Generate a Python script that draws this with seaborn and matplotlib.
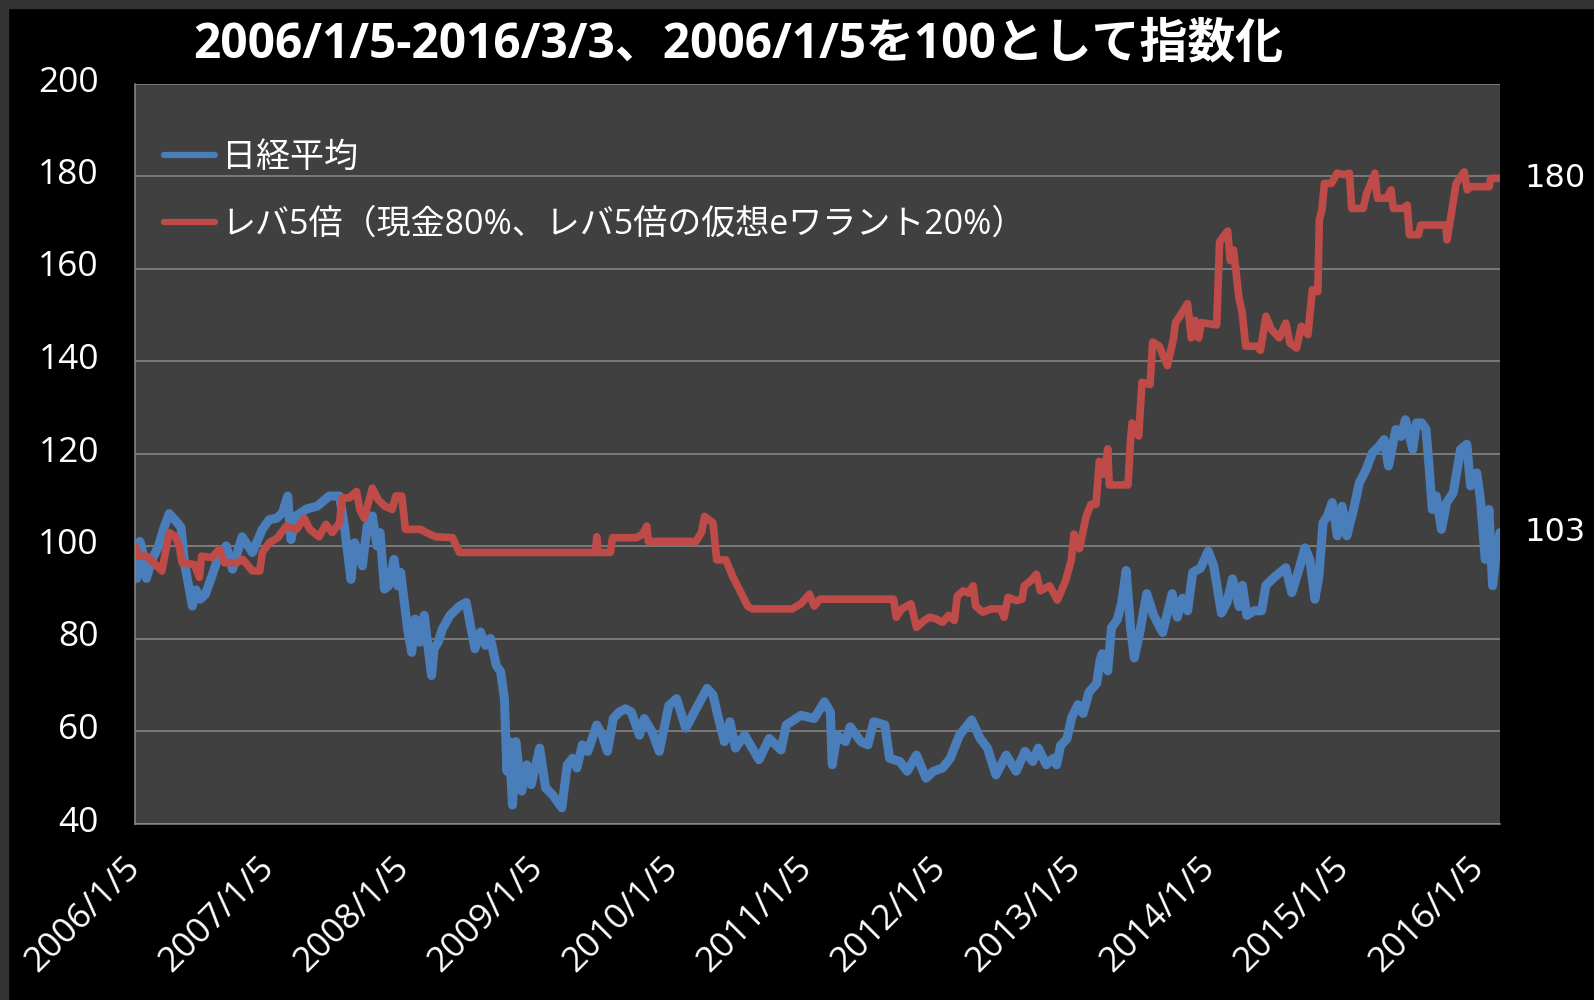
import matplotlib
matplotlib.use("Agg")
import matplotlib.pyplot as plt
import matplotlib.transforms as mtransforms
from matplotlib.patches import Rectangle
import seaborn as sb
import pandas as pd

# 日経平均 (index, 2006/1/5 = 100)
nikkei_dates = [
    "2006-01-05", "2006-01-10", "2006-01-18", "2006-01-25", "2006-02-05", "2006-02-20",
    "2006-03-10", "2006-03-25", "2006-04-08", "2006-04-25", "2006-05-10", "2006-05-20",
    "2006-06-10", "2006-06-20", "2006-07-01", "2006-07-15", "2006-08-02", "2006-08-20",
    "2006-09-10", "2006-09-27", "2006-10-23", "2006-11-20", "2006-12-17", "2007-01-05",
    "2007-01-25", "2007-02-10", "2007-02-24", "2007-03-05", "2007-03-19", "2007-04-16",
    "2007-05-15", "2007-06-17", "2007-07-15", "2007-07-28", "2007-08-15", "2007-08-25",
    "2007-09-15", "2007-09-28", "2007-10-12", "2007-10-25", "2007-11-02", "2007-11-14",
    "2007-11-25", "2007-12-10", "2007-12-20", "2007-12-28", "2008-01-16", "2008-01-27",
    "2008-02-05", "2008-02-18", "2008-03-01", "2008-03-21", "2008-03-28", "2008-04-08",
    "2008-04-19", "2008-05-10", "2008-06-05", "2008-06-23", "2008-07-05", "2008-07-17",
    "2008-08-01", "2008-08-15", "2008-08-28", "2008-09-13", "2008-09-25", "2008-10-05",
    "2008-10-12", "2008-10-18", "2008-10-27", "2008-11-05", "2008-11-21", "2008-12-05",
    "2008-12-17", "2009-01-09", "2009-01-25", "2009-02-13", "2009-03-10", "2009-03-25",
    "2009-04-08", "2009-04-20", "2009-05-05", "2009-05-20", "2009-06-13", "2009-06-28",
    "2009-07-12", "2009-07-28", "2009-08-13", "2009-08-30", "2009-09-15", "2009-10-07",
    "2009-10-20", "2009-11-10", "2009-11-30", "2009-12-26", "2010-01-16", "2010-02-10",
    "2010-03-10", "2010-04-09", "2010-04-25", "2010-05-10", "2010-05-26", "2010-06-10",
    "2010-06-25", "2010-07-20", "2010-08-28", "2010-09-25", "2010-10-27", "2010-11-10",
    "2010-12-20", "2011-01-25", "2011-02-22", "2011-03-10", "2011-03-15", "2011-03-28",
    "2011-04-20", "2011-05-03", "2011-06-01", "2011-06-20", "2011-07-06", "2011-08-05",
    "2011-08-18", "2011-09-15", "2011-10-05", "2011-10-30", "2011-11-25", "2011-12-15",
    "2012-01-09", "2012-01-30", "2012-02-24", "2012-03-28", "2012-04-20", "2012-05-10",
    "2012-06-02", "2012-06-30", "2012-07-27", "2012-08-20", "2012-09-10", "2012-09-25",
    "2012-10-17", "2012-11-05", "2012-11-14", "2012-11-25", "2012-12-12", "2012-12-25",
    "2013-01-11", "2013-01-25", "2013-02-10", "2013-03-03", "2013-03-12", "2013-03-18",
    "2013-04-02", "2013-04-12", "2013-04-28", "2013-05-10", "2013-05-22", "2013-06-03",
    "2013-06-13", "2013-06-28", "2013-07-17", "2013-08-05", "2013-08-29", "2013-09-24",
    "2013-10-08", "2013-10-22", "2013-11-05", "2013-11-19", "2013-12-10", "2013-12-31",
    "2014-01-15", "2014-02-05", "2014-02-20", "2014-03-07", "2014-03-25", "2014-04-03",
    "2014-04-15", "2014-05-05", "2014-05-25", "2014-06-06", "2014-07-01", "2014-07-30",
    "2014-08-15", "2014-09-01", "2014-09-20", "2014-10-03", "2014-10-17", "2014-10-28",
    "2014-11-08", "2014-11-20", "2014-12-03", "2014-12-17", "2014-12-30", "2015-01-12",
    "2015-01-30", "2015-02-15", "2015-03-05", "2015-03-22", "2015-04-10", "2015-04-23",
    "2015-05-05", "2015-05-25", "2015-06-08", "2015-06-20", "2015-07-10", "2015-07-20",
    "2015-08-03", "2015-08-15", "2015-08-24", "2015-09-01", "2015-09-12", "2015-09-26",
    "2015-10-10", "2015-10-28", "2015-11-17", "2015-12-04", "2015-12-14", "2015-12-31",
    "2016-01-10", "2016-01-23", "2016-02-02", "2016-02-12", "2016-02-20", "2016-03-03",
]
nikkei_values = [
    100, 93, 101, 99, 93, 97,
    100, 104, 107, 105.5, 104, 96,
    87, 90.5, 88.5, 89.5, 93.5, 97.8,
    100, 95, 102, 98.6, 103.6, 105.7,
    106, 107.2, 110.8, 101.4, 106.5, 108,
    108.6, 110.8, 110.8, 104.3, 92.8, 100.7,
    95.7, 104.3, 106.5, 100, 102.9, 90.7,
    91.4, 97.1, 91.4, 94.3, 82, 77,
    84.2, 79.2, 85, 72, 77.8, 79.2,
    82, 85, 87, 87.8, 82.8, 77.8,
    81.4, 78.5, 80, 74.2, 72.8, 67,
    51.3, 57.7, 44, 57.7, 47, 52.7,
    48.4, 56.3, 47.7, 46.2, 43.4, 52.7,
    54.1, 52, 57, 55.6, 61.3, 59.1,
    55.6, 62.7, 64.1, 64.8, 64.1, 59.1,
    62.7, 59.9, 55.6, 65.5, 67, 60.6,
    64.8, 69.2, 67.8, 62.7, 57.7, 62,
    56.3, 59.1, 53.8, 58.4, 55.9, 61.3,
    63.4, 62.7, 66.3, 64.1, 52.7, 59.1,
    57.7, 60.9, 57.7, 57, 62, 61.3,
    54.1, 53.4, 51.3, 54.8, 49.8, 51.3,
    52, 54.1, 59.1, 62.4, 58.4, 56.3,
    50.5, 54.8, 51.3, 55.6, 53.4, 56.3,
    52.7, 54.1, 52.7, 56.9, 58.3, 62.9,
    65.7, 63.8, 68.4, 70.3, 75.3, 76.7,
    73, 82.3, 84.1, 87.8, 94.7, 82.3,
    75.8, 81.3, 89.7, 85, 81.3, 89.7,
    84.6, 88.7, 86, 94.3, 95.2, 98.9,
    95.7, 85.5, 87.8, 92.9, 86.9, 91.5,
    85, 86, 86, 91.5, 93.4, 95.3,
    89.9, 94.2, 99.6, 97.1, 88.5, 93.5,
    105, 106.5, 109.4, 102.2, 108.6, 102.2,
    107.9, 113.7, 116.5, 120.1, 121.6, 123,
    117.3, 125.2, 123.7, 127.3, 120.9, 126.6,
    126.6, 125.2, 116.5, 107.9, 110.8, 103.6,
    109.4, 111.5, 120.9, 122, 113, 115.8,
    110, 97.1, 107.9, 91.4, 97.1, 102.9,
]

# レバ5倍 strategy (index, 2006/1/5 = 100)
lev_dates = [
    "2006-01-05", "2006-01-15", "2006-02-05", "2006-02-25", "2006-03-19", "2006-04-08",
    "2006-04-25", "2006-05-05", "2006-05-13", "2006-06-15", "2006-06-29", "2006-07-05",
    "2006-08-02", "2006-08-22", "2006-09-05", "2006-10-10", "2006-10-25", "2006-11-20",
    "2006-12-10", "2006-12-17", "2007-01-05", "2007-01-28", "2007-02-20", "2007-03-20",
    "2007-04-10", "2007-04-25", "2007-05-20", "2007-06-08", "2007-06-25", "2007-07-15",
    "2007-07-22", "2007-08-10", "2007-08-30", "2007-09-08", "2007-09-20", "2007-10-12",
    "2007-10-28", "2007-11-15", "2007-12-05", "2007-12-15", "2007-12-31", "2008-01-10",
    "2008-02-20", "2008-03-07", "2008-04-01", "2008-05-17", "2008-06-05", "2009-06-10",
    "2009-06-13", "2009-06-17", "2009-07-20", "2009-07-26", "2009-09-29", "2009-10-15",
    "2009-10-27", "2009-10-31", "2010-03-10", "2010-03-25", "2010-04-02", "2010-04-25",
    "2010-05-05", "2010-05-30", "2010-06-17", "2010-07-12", "2010-07-28", "2010-08-10",
    "2010-11-26", "2010-12-20", "2011-01-12", "2011-01-25", "2011-02-10", "2011-08-29",
    "2011-09-05", "2011-09-20", "2011-10-15", "2011-10-30", "2011-11-20", "2011-12-05",
    "2011-12-20", "2012-01-09", "2012-01-25", "2012-02-10", "2012-02-18", "2012-03-05",
    "2012-03-20", "2012-04-01", "2012-04-08", "2012-04-27", "2012-05-20", "2012-06-15",
    "2012-06-24", "2012-07-05", "2012-07-28", "2012-08-12", "2012-08-18", "2012-09-05",
    "2012-09-20", "2012-10-01", "2012-10-26", "2012-11-16", "2012-12-08", "2012-12-24",
    "2012-12-31", "2013-01-15", "2013-02-02", "2013-02-15", "2013-03-01", "2013-03-10",
    "2013-03-22", "2013-04-02", "2013-04-06", "2013-05-27", "2013-06-03", "2013-06-07",
    "2013-06-25", "2013-07-04", "2013-07-26", "2013-08-02", "2013-08-20", "2013-09-11",
    "2013-09-28", "2013-10-03", "2013-10-15", "2013-11-05", "2013-11-15", "2013-11-25",
    "2013-12-05", "2013-12-12", "2014-01-23", "2014-01-31", "2014-02-22", "2014-03-01",
    "2014-03-10", "2014-03-25", "2014-04-02", "2014-04-12", "2014-05-14", "2014-05-22",
    "2014-06-06", "2014-06-20", "2014-07-12", "2014-07-30", "2014-08-10", "2014-08-28",
    "2014-09-10", "2014-09-28", "2014-10-10", "2014-10-25", "2014-10-29", "2014-11-05",
    "2014-11-12", "2014-12-01", "2014-12-16", "2015-01-05", "2015-01-19", "2015-01-25",
    "2015-02-25", "2015-03-07", "2015-03-29", "2015-04-05", "2015-04-30", "2015-05-12",
    "2015-05-18", "2015-06-15", "2015-06-25", "2015-07-01", "2015-07-25", "2015-08-01",
    "2015-10-08", "2015-10-11", "2015-10-20", "2015-11-05", "2015-11-27", "2015-12-05",
    "2015-12-15", "2016-02-03", "2016-02-07", "2016-03-03",
]
lev_values = [
    100, 97.8, 97.8, 96.4, 94.6, 102.9,
    102, 100, 96.4, 96, 93.2, 97.8,
    97.5, 99.3, 96.4, 96.4, 97.1, 94.6,
    94.6, 98.6, 100.7, 101.8, 104.3, 103.6,
    106, 103.6, 102, 104.7, 102.9, 105,
    110.4, 110.4, 111.8, 107.9, 106, 112.5,
    110, 108.6, 107.9, 110.8, 110.8, 103.6,
    103.6, 102.9, 102, 101.8, 98.6, 98.6,
    102, 98.6, 98.6, 101.8, 101.8, 102.5,
    104.3, 101, 101, 103, 106.4, 105,
    97, 97, 93.5, 89.6, 87, 86.4,
    86.4, 87.5, 89.6, 87, 88.5, 88.5,
    84.6, 86.4, 87.5, 82.4, 83.9, 84.6,
    84.3, 83.5, 85, 83.9, 89.2, 90.3,
    89.8, 91.4, 87, 85.7, 86.4, 86.4,
    84.6, 88.9, 88.2, 88.5, 91.4, 92.5,
    93.9, 90.3, 91.4, 88.3, 92.4, 97,
    102.6, 99.4, 106.3, 109, 109, 118.3,
    115.5, 121, 113.2, 113.2, 122.9, 126.6,
    123.8, 135.4, 134.9, 144.1, 143.2, 139,
    145, 148.3, 149.7, 152.4, 145, 148.8,
    145, 148.3, 147.8, 165.8, 168.1, 161.7,
    164, 153.4, 150.6, 143.2, 143.2, 142.3,
    149.7, 146.9, 145, 148.2, 143.9, 142.8,
    147.5, 145.7, 155.4, 155, 170.5, 172.7,
    178.4, 178.4, 180.6, 180.3, 180.6, 173,
    173, 176.3, 180.6, 175.2, 175.2, 177,
    173, 173, 173.7, 167.3, 167.3, 169.4,
    169.4, 166.2, 170.5, 178.4, 180.9, 177,
    177.7, 177.7, 179.5, 179.5,
]

nikkei_label = "日経平均"
lev_label = "レバ5倍（現金80%、レバ5倍の仮想eワラント20%）"
title = "2006/1/5-2016/3/3、2006/1/5を100として指数化"
tick_years = list(range(2006, 2017))

nikkei = pd.DataFrame({"date": pd.to_datetime(nikkei_dates), "value": nikkei_values})
lev = pd.DataFrame({"date": pd.to_datetime(lev_dates), "value": lev_values})

sb.set_style("dark")
plt.rcParams['font.family'] = ['Open Sans', 'Noto Sans CJK JP', 'DejaVu Sans']

blue = "#4a7ebb"
red = "#be4b48"

fig = plt.figure(figsize=(15.94, 10), dpi=100, facecolor="black")
ax = fig.add_axes([0.0847, 0.1765, 0.8563, 0.740])
ax.set_facecolor("#404040")

sb.lineplot(data=nikkei, x="date", y="value", ax=ax, color=blue, linewidth=6.5,
            estimator=None, label=nikkei_label, solid_joinstyle="round", solid_capstyle="round")
sb.lineplot(data=lev, x="date", y="value", ax=ax, color=red, linewidth=5.5,
            estimator=None, label=lev_label, solid_joinstyle="round", solid_capstyle="round")

ax.set_xlim(pd.Timestamp("2006-01-05"), pd.Timestamp("2016-03-03"))
ax.set_ylim(40, 200)
ax.set_yticks(range(40, 201, 20))
ticks = [pd.Timestamp(f"{y}-01-05") for y in tick_years]
ax.set_xticks(ticks)
ax.set_xticklabels([f"{y}/1/5" for y in tick_years], rotation=45, ha="right",
                   va="center", rotation_mode="anchor")
ax.set_xlabel("")
ax.set_ylabel("")

ax.grid(False)
ax.yaxis.grid(True, color="#8a8a8a", linewidth=1.1)
ax.set_axisbelow(True)
for s in ["top", "right"]:
    ax.spines[s].set_visible(False)
for s in ["left", "bottom"]:
    ax.spines[s].set_visible(True)
    ax.spines[s].set_color("#8a8a8a")
    ax.spines[s].set_linewidth(1.1)
ax.tick_params(axis="both", colors="#8a8a8a", length=9, width=1.1, direction="out",
               labelcolor="white", labelsize=25.5)
ax.tick_params(axis="x", pad=19)
ax.tick_params(axis="y", pad=17)

# y labels sit a little above their grid lines
shift_up = mtransforms.ScaledTranslation(0, 0.05, fig.dpi_scale_trans)
for lbl in ax.get_yticklabels():
    lbl.set_verticalalignment("center_baseline")
    lbl.set_transform(lbl.get_transform() + shift_up)

leg = ax.legend(loc="upper left", bbox_to_anchor=(0.021, 0.922), frameon=False,
                fontsize=24.5, handlelength=1.5, handletextpad=0.2, labelspacing=0.95,
                borderaxespad=0, borderpad=0)
for t in leg.get_texts():
    t.set_color("white")
for h in leg.get_lines():
    h.set_linewidth(4.5)
    h.set_solid_capstyle("round")

# end values on the right
for vals in (lev_values, nikkei_values):
    ax.annotate(f"{vals[-1]:.0f}", xy=(1.018, vals[-1]), xycoords=("axes fraction", "data"),
                va="center", ha="left", color="white", fontsize=23, family="DejaVu Sans",
                annotation_clip=False)

fig.text(0.463, 0.955, title, color="white", fontsize=34.5, fontweight="bold",
         ha="center", va="center")

# gray border strips along top and left edge
fig.patches.append(Rectangle((0, 0.992), 1, 0.008, transform=fig.transFigure,
                             color="#333333", zorder=0))
fig.patches.append(Rectangle((0, 0), 0.005, 1, transform=fig.transFigure,
                             color="#333333", zorder=0))

fig.savefig("out.png", dpi=100, facecolor="black")
